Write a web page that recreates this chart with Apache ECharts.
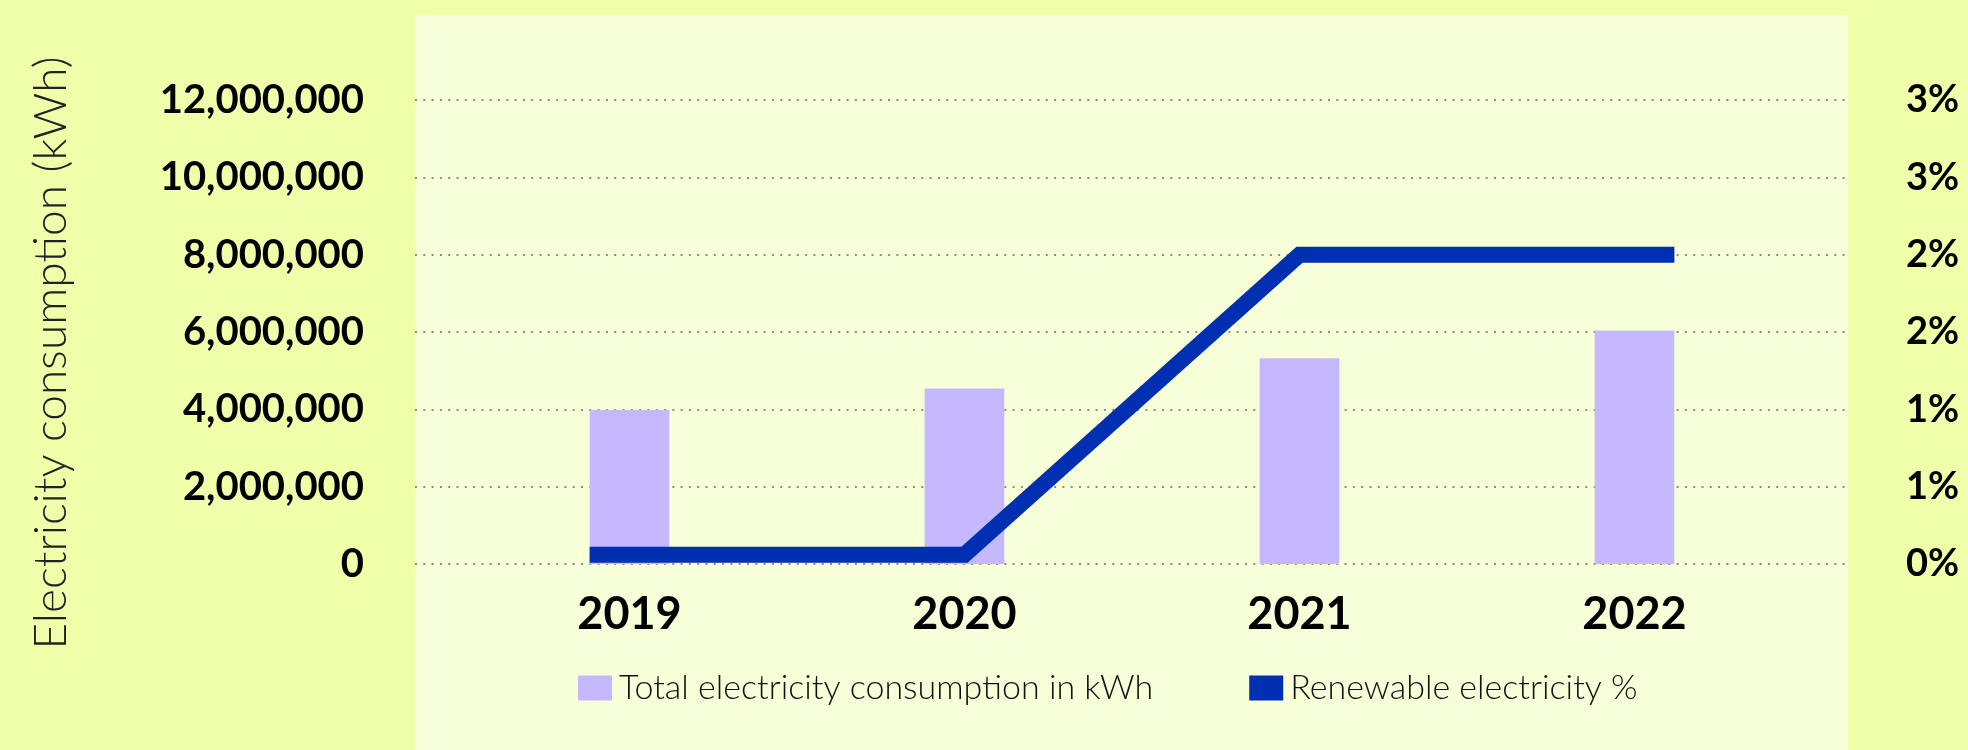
<!DOCTYPE html>
<html>
<head>
<meta charset="utf-8">
<script src="https://cdn.jsdelivr.net/npm/echarts@6/dist/echarts.min.js"></script>
<style>
  html, body { margin: 0; padding: 0; background: #F0FFAA; }
  #chart { width: 1968px; height: 750px; }
</style>
</head>
<body>
<div id="chart"></div>
<script>
// ---- data ----
const years = ['2019', '2020', '2021', '2022'];
const consumptionKWh = [3980000, 4540000, 5320000, 6040000];
const renewablePct = [0.06, 0.06, 2.0, 2.0];
const seriesNames = ['Total electricity consumption in kWh', 'Renewable electricity %'];
const yAxisTitle = 'Electricity consumption (kWh)';

// ---- style ----
const FONT = 'Lato, "Noto Sans", sans-serif';
const BAR_COLOR = '#C5B8FF';
const LINE_COLOR = '#002FB2';
const BAR_RATIO = 0.238;
const GRID_TOP = 100, GRID_BOTTOM = 186;

const chart = echarts.init(document.getElementById('chart'), null, { renderer: 'canvas' });

const option = {
  backgroundColor: '#F0FFAA',
  animation: false,
  graphic: [{
    type: 'rect', z: -10, silent: true,
    shape: { x: 415, y: 15, width: 1433, height: 735 },
    style: { fill: '#F7FFD8' }
  }],
  legend: {
    left: 573, top: 666,
    itemWidth: 34, itemHeight: 25, itemGap: 96,
    icon: 'rect',
    data: seriesNames,
    textStyle: { fontFamily: FONT, fontWeight: 300, fontSize: 34, color: '#111', padding: [0, 0, 0, 2] }
  },
  grid: [
    { left: 415, right: 120, top: GRID_TOP, bottom: GRID_BOTTOM },
    { left: 462, right: 166, top: GRID_TOP, bottom: GRID_BOTTOM }
  ],
  xAxis: [
    { type: 'category', gridIndex: 0, data: years, show: false },
    {
      type: 'category', gridIndex: 1, data: years,
      axisLine: { show: false }, axisTick: { show: false },
      axisLabel: { margin: 28, fontFamily: FONT, fontWeight: 'bold', fontSize: 45, color: '#000' }
    }
  ],
  yAxis: [
    {
      type: 'value', gridIndex: 0, position: 'left', min: 0, max: 12000000, interval: 2000000,
      axisLine: { show: false }, axisTick: { show: false },
      splitLine: { show: true, lineStyle: { color: '#8C8C8C', width: 2, type: [2, 6.3] } },
      axisLabel: {
        margin: 51, fontFamily: FONT, fontWeight: 'bold', fontSize: 40, color: '#000',
        formatter: v => v.toLocaleString('en-US')
      },
      name: yAxisTitle, nameLocation: 'middle', nameRotate: 90, nameGap: 341,
      nameTextStyle: { fontFamily: FONT, fontWeight: 300, fontSize: 46, color: '#222', padding: [0, 42, 0, 0] }
    },
    {
      type: 'value', gridIndex: 0, position: 'right', min: 0, max: 3, interval: 0.5,
      axisLine: { show: false }, axisTick: { show: false }, splitLine: { show: false },
      axisLabel: {
        margin: 58, fontFamily: FONT, fontWeight: 'bold', fontSize: 38, color: '#000',
        formatter: v => Math.round(v) + '%'
      }
    },
    { type: 'value', gridIndex: 1, min: 0, max: 12000000, interval: 2000000, show: false, splitLine: { show: false } },
    { type: 'value', gridIndex: 1, min: 0, max: 3, interval: 0.5, show: false, splitLine: { show: false } }
  ],
  series: [
    {
      name: seriesNames[0], type: 'bar', xAxisIndex: 1, yAxisIndex: 2,
      data: consumptionKWh, barWidth: (BAR_RATIO * 100) + '%',
      itemStyle: { color: BAR_COLOR }
    },
    {
      name: seriesNames[1], type: 'custom', xAxisIndex: 1, yAxisIndex: 3, z: 5,
      itemStyle: { color: LINE_COLOR },
      data: renewablePct.map((v, i) => [i, v]),
      encode: { x: 0, y: 1 },
      renderItem: function (params, api) {
        if (params.dataIndex !== 0) return null;
        const pts = renewablePct.map((v, i) => api.coord([i, v]));
        const half = api.size([1, 0])[0] * BAR_RATIO / 2;
        pts[0] = [pts[0][0] - half, pts[0][1]];
        const n = pts.length - 1;
        pts[n] = [pts[n][0] + half, pts[n][1]];
        return {
          type: 'polyline',
          shape: { points: pts },
          style: { stroke: LINE_COLOR, lineWidth: 16, fill: null, lineJoin: 'miter', lineCap: 'butt' }
        };
      }
    }
  ]
};
chart.setOption(option);
</script>
</body>
</html>
